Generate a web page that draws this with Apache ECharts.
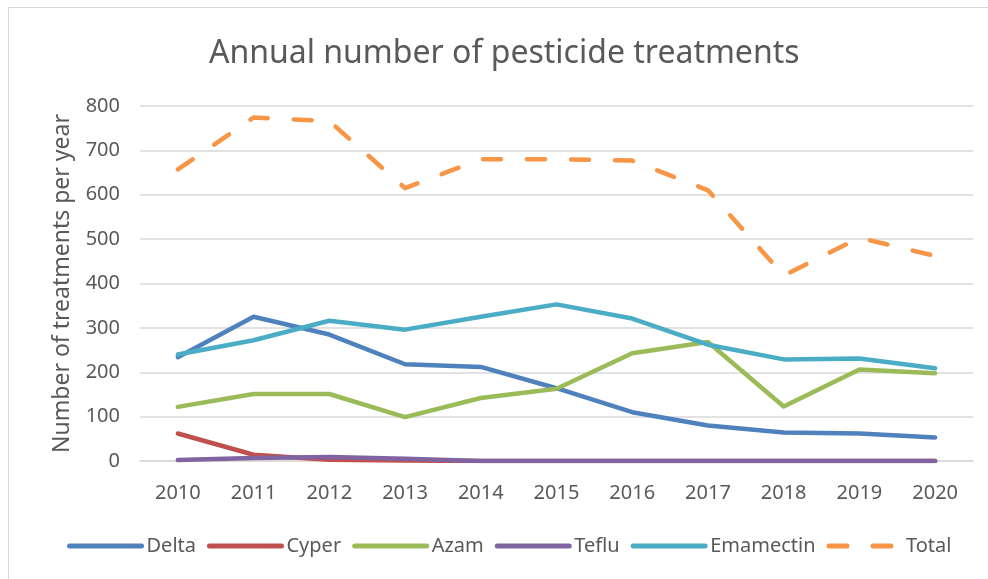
<!DOCTYPE html>
<html>
<head>
<meta charset="utf-8">
<script src="https://cdn.jsdelivr.net/npm/echarts@6/dist/echarts.min.js"></script>
<style>
  html, body { margin: 0; padding: 0; background: #fff; overflow: hidden; }
  .frame {
    position: absolute; left: 8px; top: 7px; width: 1000px; height: 600px;
    border: 1.5px solid #d9d9d9; box-sizing: border-box;
  }
  .chart-container { position: absolute; left: 0; top: 0; width: 988px; height: 579px; }
</style>
</head>
<body>
<div class="frame"></div>
<div class="chart-container" id="chart"></div>
<script>
const years = ['2010', '2011', '2012', '2013', '2014', '2015', '2016', '2017', '2018', '2019', '2020'];
const delta = [234, 325, 285, 218, 212, 164, 110, 80, 64, 62, 53];
const cyper = [62, 14, 3, 1, 0, 0, 0, 0, 0, 0, 0];
const azam = [122, 151, 151, 99, 142, 163, 243, 268, 123, 206, 198];
const teflu = [2, 7, 9, 5, 0, 0, 0, 0, 0, 0, 0];
const emamectin = [240, 272, 316, 296, 325, 353, 321, 262, 229, 231, 209];
const total = [657, 774, 766, 615, 680, 680, 677, 610, 418, 503, 462];

const textColor = '#595959';
const fontFamily = '"Noto Sans", sans-serif';

const chart = echarts.init(document.getElementById('chart'));

const makeLine = (name, data, color, dashed) => ({
  name: name,
  type: 'line',
  data: data,
  symbol: 'none',
  smooth: false,
  lineStyle: {
    color: color,
    width: 4.5,
    cap: 'round',
    join: 'round',
    type: dashed ? [18, 26] : 'solid'
  },
  itemStyle: { color: color }
});

const option = {
  animation: false,
  title: {
    text: 'Annual number of pesticide treatments',
    left: 204,
    top: 33,
    textStyle: {
      color: textColor,
      fontFamily: fontFamily,
      fontSize: 32,
      fontWeight: 'normal'
    }
  },
  legend: {
    data: ['Delta', 'Cyper', 'Azam', 'Teflu', 'Emamectin', 'Total'],
    left: 62,
    top: 531,
    itemWidth: 72,
    itemHeight: 14,
    itemGap: 11,
    itemStyle: { opacity: 0 },
    lineStyle: { width: 5, cap: 'round' },
    textStyle: {
      color: textColor,
      fontFamily: fontFamily,
      fontSize: 20
    }
  },
  grid: {
    left: 140,
    right: 15,
    top: 106,
    bottom: 118,
    containLabel: false
  },
  xAxis: {
    type: 'category',
    data: years,
    boundaryGap: true,
    axisLine: { lineStyle: { color: '#d9d9d9', width: 1.5 } },
    axisTick: { show: false },
    axisLabel: {
      color: textColor,
      fontFamily: fontFamily,
      fontSize: 20,
      margin: 22
    }
  },
  yAxis: {
    type: 'value',
    min: 0,
    max: 800,
    interval: 100,
    name: 'Number of treatments per year',
    nameLocation: 'middle',
    nameGap: 66,
    nameTextStyle: {
      color: textColor,
      fontFamily: fontFamily,
      fontSize: 23
    },
    axisLine: { show: false },
    axisTick: { show: false },
    axisLabel: {
      color: textColor,
      fontFamily: fontFamily,
      fontSize: 20,
      margin: 20
    },
    splitLine: {
      lineStyle: { color: '#d9d9d9', width: 1.5 }
    }
  },
  series: [
    makeLine('Delta', delta, '#4f81bd'),
    makeLine('Cyper', cyper, '#c0504d'),
    makeLine('Azam', azam, '#9bbb59'),
    makeLine('Teflu', teflu, '#8064a2'),
    makeLine('Emamectin', emamectin, '#4bacc6'),
    makeLine('Total', total, '#f79646', true)
  ]
};

chart.setOption(option);
</script>
</body>
</html>
